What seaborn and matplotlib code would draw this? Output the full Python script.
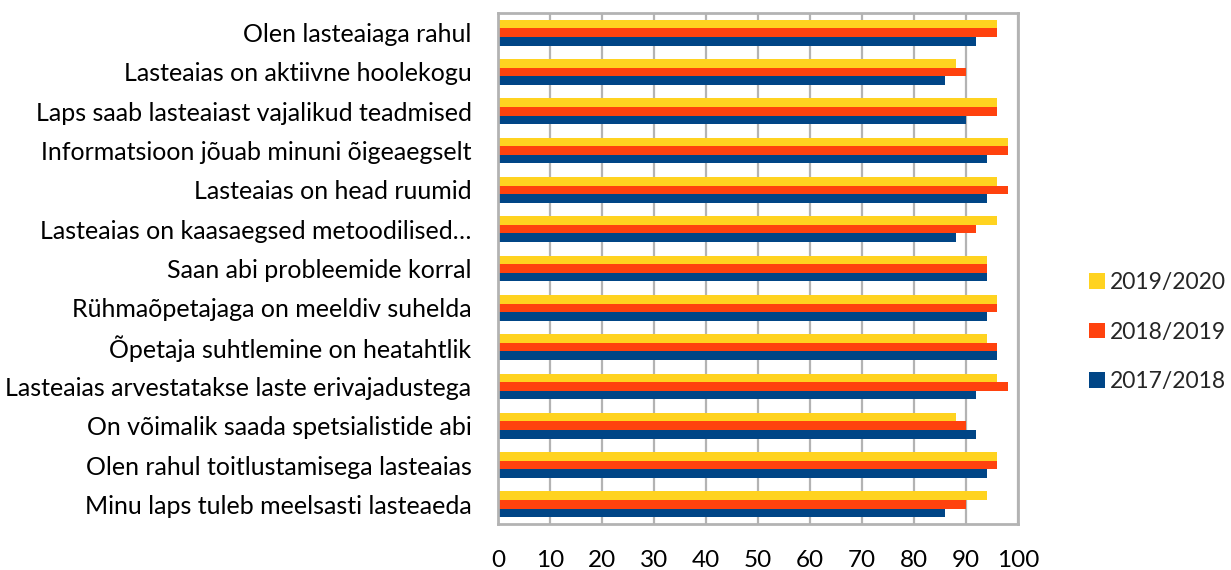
import matplotlib
matplotlib.use("Agg")
import matplotlib.pyplot as plt
import seaborn as sns
import pandas as pd
from matplotlib.patches import Patch

categories = [
    "Olen lasteaiaga rahul",
    "Lasteaias on aktiivne hoolekogu",
    "Laps saab lasteaiast vajalikud teadmised",
    "Informatsioon jõuab minuni õigeaegselt",
    "Lasteaias on head ruumid",
    "Lasteaias on kaasaegsed metoodilised…",
    "Saan abi probleemide korral",
    "Rühmaõpetajaga on meeldiv suhelda",
    "Õpetaja suhtlemine on heatahtlik",
    "Lasteaias arvestatakse laste erivajadustega",
    "On võimalik saada spetsialistide abi",
    "Olen rahul toitlustamisega lasteaias",
    "Minu laps tuleb meelsasti lasteaeda",
]
series_names = ["2019/2020", "2018/2019", "2017/2018"]
v_2019_2020 = [96, 88, 96, 98, 96, 96, 94, 96, 94, 96, 88, 96, 94]
v_2018_2019 = [96, 90, 96, 98, 98, 92, 94, 96, 96, 98, 90, 96, 90]
v_2017_2018 = [92, 86, 90, 94, 94, 88, 94, 94, 96, 92, 92, 94, 86]
x_ticks = [0, 10, 20, 30, 40, 50, 60, 70, 80, 90, 100]
colors = ["#FFD320", "#FF420E", "#004586"]

rows = []
for name, vals in zip(series_names, [v_2019_2020, v_2018_2019, v_2017_2018]):
    for c, v in zip(categories, vals):
        rows.append({"cat": c, "year": name, "val": v})
df = pd.DataFrame(rows)

sns.set_style("white")
plt.rcParams["font.family"] = ["Lato", "DejaVu Sans"]

fig = plt.figure(figsize=(12.31, 5.70), dpi=100)
ax = fig.add_axes([498/1231, 1 - 524/570, (1018-498)/1231, (524-13)/570])

sns.barplot(data=df, y="cat", x="val", hue="year", order=categories,
            hue_order=series_names, palette=colors, orient="h",
            width=0.655, saturation=1, ax=ax, legend=False, linewidth=0)

ax.set_xlim(0, 100)
ax.set_ylim(len(categories) - 0.5, -0.5)
ax.set_xticks(x_ticks)
ax.set_xticklabels([str(t) for t in x_ticks])
ax.set_xlabel("")
ax.set_ylabel("")
ax.xaxis.grid(True, color="#b3b3b3", linewidth=1.6)
ax.yaxis.grid(False)
ax.set_axisbelow(True)
for s in ax.spines.values():
    s.set_visible(True)
    s.set_color("#b3b3b3")
    s.set_linewidth(2)
ax.tick_params(axis="x", length=0, pad=19, labelsize=17.5, colors="black")
ax.tick_params(axis="y", length=0, pad=19, labelsize=18, colors="black")

handles = [Patch(facecolor=c, edgecolor="none", label=n) for c, n in zip(colors, series_names)]
fig.legend(handles=handles, loc="center left", bbox_to_anchor=(1089/1231, 1 - 332/570),
           frameon=False, fontsize=16.5, handlelength=0.68, handleheight=0.68,
           handletextpad=0.25, labelspacing=1.25, borderpad=0, borderaxespad=0)

fig.savefig("out.png", dpi=100)
